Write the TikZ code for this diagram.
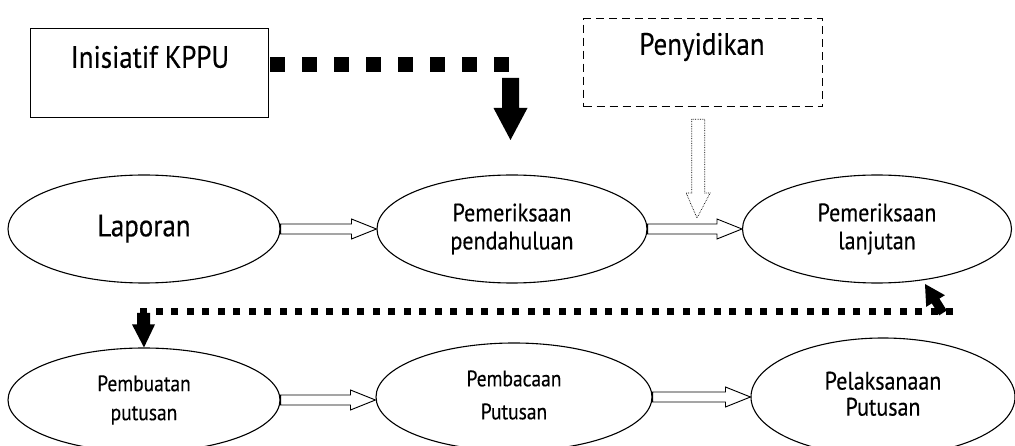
\documentclass[tikz,border=0pt]{standalone}
\usepackage{fontspec}
\setmainfont{PT Sans}[FakeStretch=0.87, FakeBold=0.3]
\usetikzlibrary{shapes.geometric,calc}
\begin{document}
\begin{tikzpicture}[x=1pt,y=-1pt,
  oval/.style={draw, ellipse, line width=1.1pt, inner sep=0pt, align=center},
  plainbox/.style={draw, line width=1.3pt, inner sep=0pt},
  dashbox/.style={draw, line width=1.3pt, dash pattern=on 8pt off 5pt, inner sep=0pt},
  bigtxt/.style={font=\fontsize{31}{36}\selectfont},
  midtxt/.style={font=\fontsize{25.3}{28}\selectfont},
  smltxt/.style={font=\fontsize{22.4}{29}\selectfont},
  hollow/.style={draw, line width=0.9pt, fill=white, line join=miter},
  blockarrow/.style={fill=black},
  bigdots/.style={line width=15pt, dash pattern=on 15pt off 17pt},
  smalldots/.style={line width=7pt, dash pattern=on 7pt off 8.5pt},
]
\useasboundingbox (0,0) rectangle (1015,446);

% boxes
\node[plainbox, minimum width=238pt, minimum height=89pt, anchor=north west] (kppu) at (30,28) {};
\node[bigtxt] (kppuT) at (150,57) {Inisiatif KPPU};
\node[dashbox, minimum width=239pt, minimum height=88pt, anchor=north west] (peny) at (583,18) {};
\node[bigtxt] (penyT) at (702,47) {Penyidikan};

% top row
\node[oval, bigtxt, minimum width=272pt, minimum height=108pt] (lap) at (144,229) {\raisebox{7pt}{Laporan}};
\node[oval, midtxt, minimum width=270pt, minimum height=108pt] (pend) at (512,229) {Pemeriksaan\\pendahuluan};
\node[oval, midtxt, minimum width=269pt, minimum height=108pt] (lanj) at (877,229) {Pemeriksaan\\lanjutan};

% bottom row
\node[oval, smltxt, minimum width=272pt, minimum height=104pt] (buat) at (144,400) {Pembuatan\\putusan};
\node[oval, smltxt, minimum width=276pt, minimum height=108pt] (baca) at (514,397) {\raisebox{3pt}{\begin{tabular}{@{}c@{}}Pembacaan\\[4pt]Putusan\end{tabular}}};
\node[oval, midtxt, minimum width=264pt, minimum height=118pt] (laks) at (883,397) {\raisebox{6pt}{\begin{tabular}{@{}c@{}}Pelaksanaan\\[-2pt]Putusan\end{tabular}}};

% hollow arrows between ellipses
\foreach \a/\b in {lap/pend, pend/lanj, buat/baca, baca/laks}{
  \draw[hollow] let \p1=(\a.east), \p2=(\b.west) in
    (\x1,\y1-5pt) -- (\x2-25pt,\y1-5pt) -- (\x2-25pt,\y1-10pt) -- (\x2,\y1)
    -- (\x2-25pt,\y1+10pt) -- (\x2-25pt,\y1+5pt) -- (\x1,\y1+5pt) -- cycle;
}

% thick dotted line from KPPU and black down arrow
\coordinate (d1s) at (270,65);
\coordinate (d1e) at (509,65);
\draw[bigdots] (d1s) -- (d1e);
\coordinate (a1s) at (510.5,78);
\coordinate (a1t) at (510.5,140);
\fill[blockarrow] let \p1=(a1s), \p2=(a1t) in
  (\x1-8.5pt,\y1) -- (\x1+8.5pt,\y1) -- (\x1+8.5pt,\y2+32pt) -- (\x1+17pt,\y2+32pt)
  -- (\x2,\y2) -- (\x1-17pt,\y2+32pt) -- (\x1-8.5pt,\y2+32pt) -- cycle;

% dotted hollow arrow from Penyidikan
\coordinate (ps) at ($(peny.south)+(-5,12)$);
\coordinate (pt) at (697,218);
\draw[densely dotted, line width=0.7pt] let \p1=(ps), \p2=(pt) in
  (\x1-6.5pt,\y1) -- (\x1+6.5pt,\y1) -- (\x1+6.5pt,\y2+25pt) -- (\x1+12pt,\y2+25pt)
  -- (\x2,\y2) -- (\x1-12pt,\y2+25pt) -- (\x1-6.5pt,\y2+25pt) -- cycle;

% second dotted line
\coordinate (d2r) at (953,312);
\coordinate (d2l) at (133,312);
\draw[smalldots] (d2r) -- (d2l);

% down arrow into Pembuatan putusan
\coordinate (a2s) at (143.5,313);
\fill[blockarrow] let \p1=(a2s), \p2=(buat.north) in
  (\x1-6.5pt,\y1) -- (\x1+6.5pt,\y1) -- (\x1+6.5pt,\y2+23pt) -- (\x1+11.5pt,\y2+23pt)
  -- (\x2,\y2) -- (\x1-11.5pt,\y2+23pt) -- (\x1-6.5pt,\y2+23pt) -- cycle;

% small up-left arrow
\fill[blockarrow] (925,284) -- (944.9,295.2) -- (939.4,298.6) -- (946.8,310.5)
  -- (939.2,315.3) -- (931.8,303.4) -- (926.2,306.8) -- cycle;
\end{tikzpicture}
\end{document}
